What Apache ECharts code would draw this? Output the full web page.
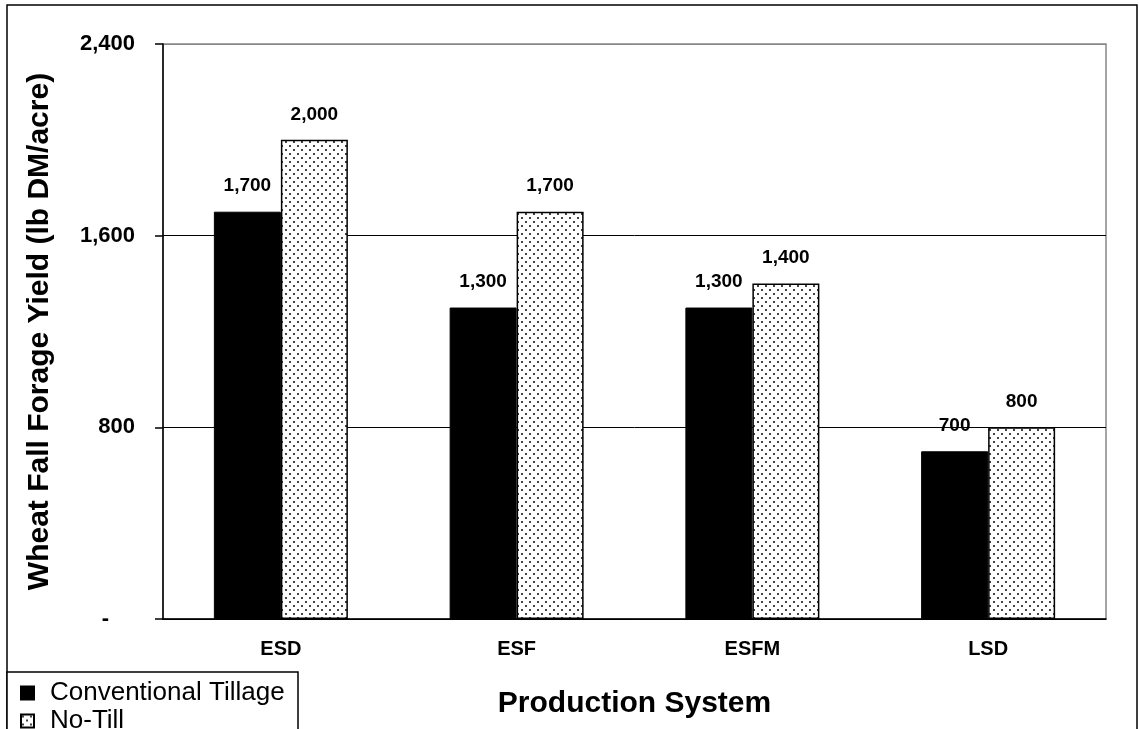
<!DOCTYPE html>
<html>
<head>
<meta charset="utf-8">
<title>Wheat Fall Forage Yield</title>
<script src="https://cdn.jsdelivr.net/npm/echarts@6/dist/echarts.min.js"></script>
<style>
    html, body { margin: 0; padding: 0; background: #fff; }
    #chart { width: 1139px; height: 729px; }
</style>
</head>
<body>
<div id="chart"></div>
<script>
// production systems on the x axis
const categories = ['ESD', 'ESF', 'ESFM', 'LSD']
// yields, lb DM/acre
const conventional = [1700, 1300, 1300, 700]
const noTill = [2000, 1700, 1400, 800]
// y axis range
const yMin = 0
const yMax = 2400
const yStep = 800

// dotted fill for No-Till bars
const makeDots = () => {
    const c = document.createElement('canvas')
    c.width = 8
    c.height = 8
    const ctx = c.getContext('2d')
    ctx.fillStyle = '#fff'
    ctx.fillRect(0, 0, 8, 8)
    ctx.fillStyle = '#444'
    ctx.fillRect(1, 1, 2, 2)
    ctx.fillRect(5, 5, 2, 2)
    return c
}

const font = 'Arial, "Liberation Sans", sans-serif'
const labelStyle = {
    show: true,
    position: 'top',
    distance: 16,
    color: '#000',
    fontFamily: font,
    fontWeight: 'bold',
    fontSize: 19,
    formatter: (p) => p.value.toLocaleString('en-US'),
}

const chart = echarts.init(document.getElementById('chart'), null, { renderer: 'canvas' })
chart.setOption({
    backgroundColor: '#fff',
    animation: false,
    graphic: [
        // outer frame
        {
            type: 'rect',
            z: -1,
            shape: { x: 7, y: 5, width: 1130, height: 760 },
            style: { fill: 'none', stroke: '#000', lineWidth: 1.5 },
        },
        // legend box
        {
            type: 'rect',
            z: -1,
            shape: { x: 7, y: 672, width: 291, height: 90 },
            style: { fill: '#fff', stroke: '#000', lineWidth: 1.5 },
        },
    ],
    grid: {
        left: 163,
        top: 44,
        right: 33,
        bottom: 110,
        show: true,
        borderColor: '#888',
        borderWidth: 1.5,
    },
    legend: {
        orient: 'vertical',
        left: 7,
        top: 672,
        height: 90,
        padding: [8, 5, 0, 13],
        itemWidth: 13,
        itemHeight: 13,
        itemGap: 2,
        icon: 'rect',
        textStyle: { fontFamily: font, fontSize: 26, lineHeight: 22, color: '#000', padding: [0, 0, 0, 11] },
        data: ['Conventional Tillage', 'No-Till'],
    },
    xAxis: {
        type: 'category',
        data: categories,
        name: 'Production System',
        nameLocation: 'middle',
        nameGap: 70,
        nameTextStyle: { fontFamily: font, fontWeight: 'bold', fontSize: 30, color: '#000' },
        axisLine: { lineStyle: { color: '#000', width: 1.5 } },
        axisTick: { length: 6, lineStyle: { color: '#000', width: 1.5 } },
        axisLabel: { margin: 20, fontFamily: font, fontWeight: 'bold', fontSize: 20, color: '#000' },
    },
    yAxis: {
        type: 'value',
        min: yMin,
        max: yMax,
        interval: yStep,
        name: 'Wheat Fall Forage Yield (lb DM/acre)',
        nameLocation: 'middle',
        nameRotate: 90,
        nameGap: 108,
        nameTextStyle: { fontFamily: font, fontWeight: 'bold', fontSize: 30, color: '#000' },
        axisLine: { show: true, lineStyle: { color: '#000', width: 1.5 } },
        axisTick: { show: true, length: 8, lineStyle: { color: '#000', width: 1.5 } },
        splitLine: { lineStyle: { color: ['#000', '#000', '#000', '#888'], width: 1 } },
        axisLabel: {
            margin: 28,
            fontFamily: font,
            fontWeight: 'bold',
            fontSize: 22,
            color: '#000',
            formatter: (v) => (v === 0 ? '{d|-}' : v.toLocaleString('en-US')),
            rich: {
                d: { fontFamily: font, fontWeight: 'bold', fontSize: 22, color: '#000', padding: [0, 26, 0, 0] },
            },
        },
    },
    series: [
        {
            name: 'Conventional Tillage',
            type: 'bar',
            data: conventional,
            barWidth: 67,
            barGap: '0%',
            itemStyle: { color: '#000', borderColor: '#000', borderWidth: 1 },
            label: labelStyle,
        },
        {
            name: 'No-Till',
            type: 'bar',
            data: noTill,
            barWidth: 67,
            itemStyle: {
                color: { image: makeDots(), repeat: 'repeat' },
                borderColor: '#000',
                borderWidth: 1.5,
            },
            label: labelStyle,
        },
    ],
})
</script>
</body>
</html>
